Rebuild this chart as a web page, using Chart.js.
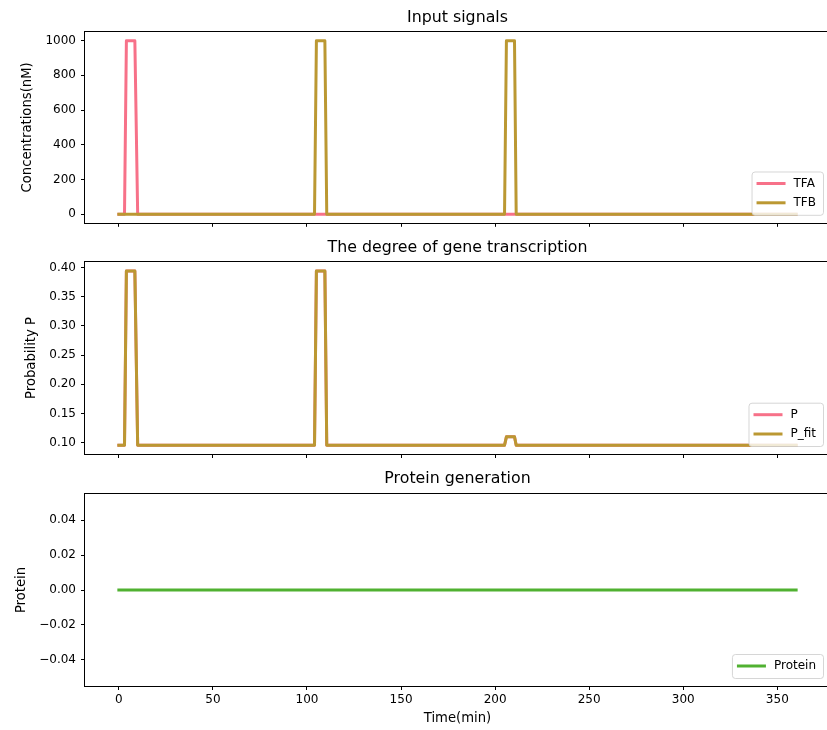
<!DOCTYPE html>
<html><head><meta charset="utf-8">
<script src="https://cdn.jsdelivr.net/npm/chart.js@4.4.0/dist/chart.umd.min.js"></script>
<style>
html,body{margin:0;padding:0;background:#fff;overflow:hidden;width:827px;height:730px;position:relative;}
canvas{position:absolute;left:0;}
</style></head><body>
<canvas id="c1"></canvas><canvas id="c2"></canvas><canvas id="c3"></canvas>
<script>
// ---- data ----
const time    = [0, 3, 4, 8.5, 10, 104, 105, 109.5, 110.5, 205, 206, 210.3, 211.2, 360];
const TFA     = [0, 0, 1000, 1000, 0, 0, 0, 0, 0, 0, 0, 0, 0, 0];
const TFB     = [0, 0, 0, 0, 0, 0, 1000, 1000, 0, 0, 1000, 1000, 0, 0];
const P       = [0.0955, 0.0955, 0.394, 0.394, 0.0955, 0.0955, 0.394, 0.394, 0.0955, 0.0955, 0.11, 0.11, 0.0955, 0.0955];
const P_fit   = [0.0955, 0.0955, 0.394, 0.394, 0.0955, 0.0955, 0.394, 0.394, 0.0955, 0.0955, 0.11, 0.11, 0.0955, 0.0955];
const Protein = [0, 0, 0, 0, 0, 0, 0, 0, 0, 0, 0, 0, 0, 0];
const xTicks  = [0, 50, 100, 150, 200, 250, 300, 350];
const yTicksTop = [0, 200, 400, 600, 800, 1000];
const yTicksMid = [0.10, 0.15, 0.20, 0.25, 0.30, 0.35, 0.40];
const yTicksBot = [-0.04, -0.02, 0.00, 0.02, 0.04];

const FAMILY = '"DejaVu Sans", sans-serif';
const C_PINK = '#f77189', C_GOLD = '#bb9832', C_GREEN = '#50b131';
const PLOT_LEFT = 85, PLOT_RIGHT = 830, CW = 840;
const TICK_FS = 12, LABEL_FS = 13.2, TITLE_FS = 15.8;

const framePlugin = {
  id: 'frame',
  afterDatasetsDraw(chart) {
    const {ctx, chartArea: a} = chart;
    ctx.save();
    ctx.strokeStyle = '#000';
    ctx.lineWidth = 1;
    ctx.strokeRect(Math.round(a.left) - 0.5, Math.round(a.top) - 0.5,
                   Math.round(a.right - a.left) + 1, Math.round(a.bottom - a.top) + 1);
    ctx.restore();
  }
};

const legendPlugin = {
  id: 'boxLegend',
  afterDatasetsDraw(chart) {
    const {ctx, chartArea: a} = chart;
    const items = chart.data.datasets.map(d => ({label: d.label, color: d.borderColor}));
    ctx.save();
    ctx.font = '12px ' + FAMILY;
    const textW = Math.max(...items.map(i => ctx.measureText(i.label).width));
    const w = 42 + textW + 7;
    const h = 24 + (items.length - 1) * 19.3;
    const right = 823, bottom = a.bottom - 8;
    const left = right - w, top = bottom - h;
    ctx.globalAlpha = 0.8;
    ctx.fillStyle = '#fff';
    ctx.strokeStyle = '#cccccc';
    ctx.lineWidth = 1;
    ctx.beginPath();
    ctx.roundRect(left + 0.5, top + 0.5, w, h, 3);
    ctx.fill();
    ctx.stroke();
    ctx.globalAlpha = 1;
    items.forEach((it, i) => {
      const cy = top + 12 + i * 19.3;
      ctx.strokeStyle = it.color;
      ctx.lineWidth = 3;
      ctx.lineCap = 'butt';
      ctx.beginPath();
      ctx.moveTo(left + 5, cy);
      ctx.lineTo(left + 34, cy);
      ctx.stroke();
      ctx.fillStyle = '#000';
      ctx.textAlign = 'left';
      ctx.textBaseline = 'middle';
      ctx.fillText(it.label, left + 42, cy);
    });
    ctx.restore();
  }
};

function fmtMinus(v, d) {
  const s = Math.abs(v).toFixed(d);
  return (v < -1e-12 ? '\u2212' : '') + s;
}

function makeChart(id, cfg) {
  const canvas = document.getElementById(id);
  const H = cfg.canvasHeight;
  canvas.width = CW; canvas.height = H;
  canvas.style.width = CW + 'px'; canvas.style.height = H + 'px';
  canvas.style.top = cfg.canvasTop + 'px';
  const padLeft = cfg.yTitleX - LABEL_FS * 0.6;
  const fontTick = {family: FAMILY, size: TICK_FS};
  const fontLabel = {family: FAMILY, size: LABEL_FS};
  const tHalf = TITLE_FS * 0.6;
  new Chart(canvas, {
    type: 'line',
    data: {
      datasets: cfg.series.map(s => ({
        label: s.label,
        data: time.map((t, i) => ({x: t, y: s.values[i]})),
        borderColor: s.color,
        backgroundColor: s.color,
        borderWidth: 3,
        pointRadius: 0,
        tension: 0,
        fill: false,
        borderJoinStyle: 'round',
        borderCapStyle: 'square',
        order: s.order
      }))
    },
    options: {
      responsive: false,
      animation: false,
      devicePixelRatio: 1,
      events: [],
      layout: {padding: {left: padLeft, right: CW - PLOT_RIGHT, top: 0, bottom: 0}},
      plugins: {
        legend: {display: false},
        tooltip: {enabled: false},
        title: {
          display: true, text: cfg.title, color: '#000', fullSize: false,
          font: {family: FAMILY, size: TITLE_FS, weight: 'normal'},
          padding: {top: cfg.titleY - cfg.canvasTop - tHalf, bottom: cfg.areaTop - cfg.titleY - tHalf}
        }
      },
      scales: {
        x: {
          type: 'linear', min: -18, max: 378,
          afterBuildTicks: s => { s.ticks = xTicks.map(v => ({value: v})); },
          afterFit: s => { s.height = H - (cfg.areaBottom - cfg.canvasTop); },
          grid: {display: true, drawOnChartArea: false, drawTicks: true, tickLength: 4, color: '#000', lineWidth: 1},
          border: {display: false},
          ticks: {display: cfg.showX, font: fontTick, color: '#000', padding: 3, maxRotation: 0, autoSkip: false,
                  callback: v => String(v)},
          title: {display: cfg.showX, text: 'Time(min)', font: fontLabel, color: '#000',
                  padding: {top: 0, bottom: 11 - LABEL_FS * 0.6}}
        },
        y: {
          type: 'linear', min: cfg.yMin, max: cfg.yMax,
          afterBuildTicks: s => { s.ticks = cfg.yTicks.map(v => ({value: v})); },
          afterFit: s => { s.width = PLOT_LEFT - padLeft; },
          grid: {display: true, drawOnChartArea: false, drawTicks: true, tickLength: 4, color: '#000', lineWidth: 1},
          border: {display: false},
          ticks: {font: fontTick, color: '#000', padding: 5, autoSkip: false, callback: v => cfg.fmt(v)},
          title: {display: true, text: cfg.yTitle, font: fontLabel, color: '#000', padding: 0}
        }
      }
    },
    plugins: [framePlugin, legendPlugin]
  });
}

makeChart('c1', {
  canvasTop: 0, canvasHeight: 235, areaTop: 32, areaBottom: 223, titleY: 18,
  title: 'Input signals', yTitle: 'Concentrations(nM)', yTitleX: 28,
  yMin: -50, yMax: 1050, yTicks: yTicksTop, fmt: v => String(Math.round(v)), showX: false,
  series: [
    {label: 'TFA', values: TFA, color: C_PINK, order: 1},
    {label: 'TFB', values: TFB, color: C_GOLD, order: 0}
  ]
});
makeChart('c2', {
  canvasTop: 232, canvasHeight: 235, areaTop: 262, areaBottom: 454, titleY: 248,
  title: 'The degree of gene transcription', yTitle: 'Probability P', yTitleX: 31.7,
  yMin: 0.0806, yMax: 0.4093, yTicks: yTicksMid, fmt: v => v.toFixed(2), showX: false,
  series: [
    {label: 'P', values: P, color: C_PINK, order: 1},
    {label: 'P_fit', values: P_fit, color: C_GOLD, order: 0}
  ]
});
makeChart('c3', {
  canvasTop: 462, canvasHeight: 268, areaTop: 494, areaBottom: 686, titleY: 479,
  title: 'Protein generation', yTitle: 'Protein', yTitleX: 22,
  yMin: -0.055, yMax: 0.055, yTicks: yTicksBot, fmt: v => fmtMinus(v, 2), showX: true,
  series: [
    {label: 'Protein', values: Protein, color: C_GREEN, order: 0}
  ]
});
</script>
</body></html>
